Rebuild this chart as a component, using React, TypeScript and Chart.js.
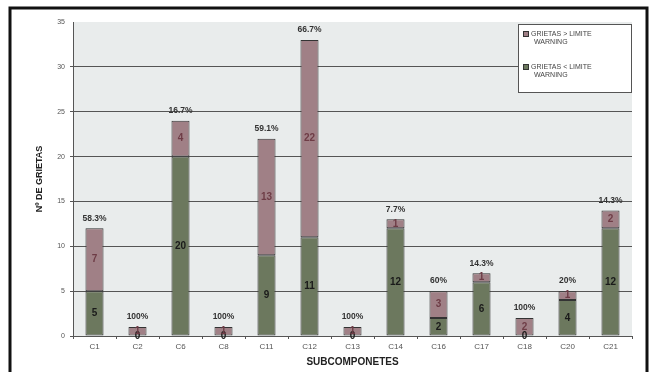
import React, { useEffect, useRef } from 'react';
import { Chart, registerables } from 'chart.js';
Chart.register(...registerables);

const categories = ['C1', 'C2', 'C6', 'C8', 'C11', 'C12', 'C13', 'C14', 'C16', 'C17', 'C18', 'C20', 'C21'];
const belowLimit = [5, 0, 20, 0, 9, 11, 0, 12, 2, 6, 0, 4, 12];
const aboveLimit = [7, 1, 4, 1, 13, 22, 1, 1, 3, 1, 2, 1, 2];
const percentLabels = ['58.3%', '100%', '16.7%', '100%', '59.1%', '66.7%', '100%', '7.7%', '60%', '14.3%', '100%', '20%', '14.3%'];
const legendLabels = [['GRIETAS > LIMITE', 'WARNING'], ['GRIETAS < LIMITE', 'WARNING']];
const yTitle = 'Nº DE GRIETAS';
const xTitle = 'SUBCOMPONETES';

const GREEN = 'rgb(108,120,94)';
const PINK = 'rgb(160,128,134)';
const FONT = '"Liberation Sans", Arial, sans-serif';

const decorPlugin = {
  id: 'decor',
  beforeDraw(chart: any) {
    const { ctx, chartArea } = chart;
    ctx.save();
    ctx.fillStyle = '#ffffff';
    ctx.fillRect(0, 0, chart.width, chart.height);
    ctx.fillStyle = 'rgb(233,236,236)';
    ctx.fillRect(chartArea.left, chartArea.top, chartArea.right - chartArea.left, chartArea.bottom - chartArea.top);
    ctx.strokeStyle = '#111';
    ctx.lineWidth = 3;
    ctx.strokeRect(10, 8, 637, 400);
    ctx.restore();
  },
  afterDatasetsDraw(chart: any) {
    const { ctx } = chart;
    ctx.save();
    ctx.textAlign = 'center';
    ctx.textBaseline = 'middle';
    const m0 = chart.getDatasetMeta(0);
    const m1 = chart.getDatasetMeta(1);
    categories.forEach((_, i) => {
      const b0 = m0.data[i];
      const b1 = m1.data[i];
      ctx.font = `bold 10px ${FONT}`;
      ctx.fillStyle = '#1a1a1a';
      ctx.fillText(String(belowLimit[i]), b0.x, (b0.y + b0.base) / 2);
      ctx.fillStyle = 'rgb(110,60,70)';
      ctx.fillText(String(aboveLimit[i]), b1.x, (b1.y + b1.base) / 2);
      ctx.font = `bold 8.5px ${FONT}`;
      ctx.fillStyle = '#333';
      ctx.fillText(percentLabels[i], b1.x, b1.y - 10);
    });
    // legend
    const lx = 518, ly = 24, lw = 113, lh = 68;
    ctx.fillStyle = '#fff';
    ctx.strokeStyle = '#555';
    ctx.lineWidth = 1;
    ctx.fillRect(lx, ly, lw, lh);
    ctx.strokeRect(lx + 0.5, ly + 0.5, lw, lh);
    const colors = [PINK, GREEN];
    legendLabels.forEach((lines, k) => {
      const y = ly + 10 + k * 33;
      ctx.fillStyle = colors[k];
      ctx.fillRect(lx + 5, y - 3, 6, 6);
      ctx.strokeStyle = '#333';
      ctx.strokeRect(lx + 5.5, y - 2.5, 5, 5);
      ctx.fillStyle = '#444';
      ctx.font = `7px ${FONT}`;
      ctx.textAlign = 'left';
      ctx.fillText(lines[0], lx + 13, y);
      ctx.fillText(lines[1], lx + 16, y + 8);
    });
    ctx.restore();
  },
};

export default function App() {
  const ref = useRef<HTMLCanvasElement>(null);
  useEffect(() => {
    document.body.style.margin = '0';
    const chart = new Chart(ref.current!, {
      type: 'bar',
      data: {
        labels: categories,
        datasets: [
          { label: legendLabels[1].join(' '), data: belowLimit, backgroundColor: GREEN, borderColor: '#333', borderWidth: 1, borderSkipped: false, barPercentage: 0.42, categoryPercentage: 1 },
          { label: legendLabels[0].join(' '), data: aboveLimit, backgroundColor: PINK, borderColor: '#333', borderWidth: 1, borderSkipped: false, barPercentage: 0.42, categoryPercentage: 1 },
        ],
      },
      options: {
        responsive: false,
        animation: false,
        layout: { padding: { left: 34, right: 22, top: 22, bottom: 4 } },
        plugins: { legend: { display: false }, tooltip: { enabled: false } },
        scales: {
          x: {
            stacked: true,
            grid: { display: true, drawOnChartArea: false, drawTicks: true, tickLength: 3, color: '#555', offset: true },
            border: { color: '#555' },
            ticks: { color: '#555', font: { size: 8, family: FONT }, padding: 3 },
            title: { display: true, text: xTitle, color: '#222', font: { size: 10, weight: 'bold', family: FONT }, padding: { top: 2, bottom: 0 } },
            afterFit: (s: any) => { s.height = 32; },
          },
          y: {
            stacked: true,
            min: 0,
            max: 35,
            ticks: { stepSize: 5, color: '#555', font: { size: 7, family: FONT }, padding: 5 },
            grid: { color: (c: any) => (c.tick && c.tick.value === 35 ? 'rgba(0,0,0,0)' : '#555'), drawTicks: true, tickLength: 3, lineWidth: 1 },
            border: { color: '#555' },
            title: { display: true, text: yTitle, color: '#222', font: { size: 9, weight: 'bold', family: FONT }, padding: { top: 0, bottom: 4 } },
            afterFit: (s: any) => { s.width = 39; },
          },
        },
      },
      plugins: [decorPlugin],
    });
    return () => chart.destroy();
  }, []);
  return <canvas ref={ref} width={654} height={372} style={{ display: 'block' }} />;
}
